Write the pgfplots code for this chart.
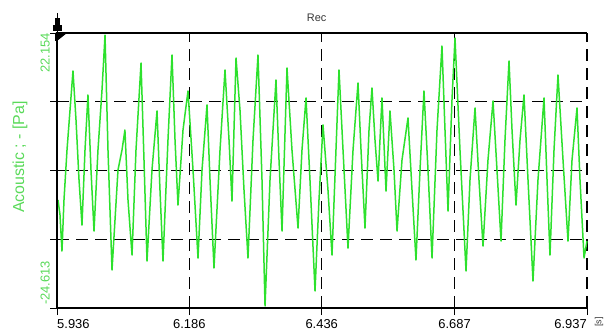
\documentclass[border=0pt]{standalone}
\usepackage{pgfplots}
\usepackage{pgfplotstable}
\pgfplotsset{compat=1.18}
\usepackage{fontspec}
\setmainfont{Liberation Sans}
\definecolor{sig}{RGB}{45,225,45}
\definecolor{lab}{RGB}{90,218,90}
\definecolor{ttl}{RGB}{55,55,55}
\tikzset{tl/.style={font=\fontsize{13}{15}\selectfont, inner sep=0pt}}

\pgfplotstableread{
x y
5.9379 -6.25
5.9417 -8.80
5.9454 -14.92
5.9492 -6.25
5.9549 2.26
5.9606 9.06
5.9662 15.69
5.9719 7.36
5.9776 -2.85
5.9832 -10.50
5.9889 2.26
5.9945 11.61
6.0002 -1.14
6.0059 -11.52
6.0134 2.26
6.0210 12.46
6.0267 21.80
6.0323 2.26
6.0399 -18.15
6.0512 -1.14
6.0588 2.26
6.0643 5.66
6.0701 -6.25
6.0777 -15.60
6.0852 2.26
6.0947 17.05
6.1003 0.56
6.1060 -16.62
6.1154 -1.14
6.1249 8.89
6.1305 -4.55
6.1362 -16.62
6.1456 3.96
6.1532 18.41
6.1589 3.96
6.1645 -7.10
6.1740 5.66
6.1834 12.29
6.1929 -1.14
6.2023 -16.11
6.2099 -1.14
6.2193 9.91
6.2250 -2.85
6.2325 -17.81
6.2439 2.26
6.2533 15.86
6.2609 3.96
6.2665 -6.42
6.2741 17.90
6.2816 9.06
6.2892 -4.55
6.2967 -16.11
6.3062 3.96
6.3156 18.41
6.3232 -2.85
6.3289 -24.27
6.3383 -2.85
6.3496 14.16
6.3553 0.56
6.3610 -11.52
6.3704 16.20
6.3798 2.26
6.3912 -11.01
6.3987 2.26
6.4063 11.10
6.4138 -2.85
6.4233 -21.72
6.4308 -6.25
6.4384 6.51
6.4478 -4.55
6.4554 -15.60
6.4629 2.26
6.4686 15.86
6.4762 2.26
6.4856 -14.41
6.4951 2.26
6.5045 13.65
6.5102 2.26
6.5177 -11.01
6.5253 5.66
6.5309 12.80
6.5366 3.96
6.5423 -3.02
6.5498 11.10
6.5574 -4.72
6.5649 8.89
6.5725 -1.14
6.5782 -11.52
6.5876 0.56
6.5989 7.70
6.6065 -4.55
6.6140 -16.45
6.6216 -1.14
6.6291 12.29
6.6367 -1.14
6.6443 -16.11
6.6537 5.66
6.6631 19.94
6.6688 5.66
6.6745 -8.12
6.6820 10.76
6.6877 21.30
6.6971 2.26
6.7085 -18.32
6.7160 -2.85
6.7255 9.40
6.7330 -2.85
6.7406 -14.07
6.7500 0.56
6.7595 10.59
6.7670 -1.14
6.7746 -13.22
6.7821 3.96
6.7897 17.39
6.7954 5.66
6.8029 -7.10
6.8105 3.96
6.8180 11.61
6.8256 -2.85
6.8350 -20.02
6.8444 -2.85
6.8558 11.10
6.8615 -2.85
6.8671 -15.60
6.8747 2.26
6.8822 15.01
6.8917 0.56
6.9011 -13.22
6.9087 0.56
6.9181 9.40
6.9238 -2.85
6.9314 -16.11
6.9370 -13.22
}\datatable

\begin{document}
\begin{tikzpicture}
\useasboundingbox (0,0) rectangle (616bp,333bp);
\begin{axis}[
  at={(57bp,25bp)}, anchor=south west,
  scale only axis, width=530bp, height=275bp,
  xmin=5.936, xmax=6.937, ymin=-24.613, ymax=22.154,
  xtick={5.936,6.186,6.436,6.687,6.937},
  ytick={-24.613,-12.9213,-1.2295,10.4623,22.154},
  xticklabel=\empty, yticklabel=\empty,
  minor x tick num=9, minor y tick num=7,
  tick align=outside, tick pos=left,
  major tick length=7bp, minor tick length=4bp,
  every tick/.style={black, line width=0.9bp},
  grid=major,
  major grid style={black, line width=1.2bp, dash pattern=on 12bp off 7bp},
  axis line style={draw=none},
  clip=false,
]
\addplot[sig, line width=1.5bp, line join=round] table[x=x,y=y] {\datatable};

\draw[black, line width=1.4bp] (rel axis cs:1,1) -- (rel axis cs:0,1) -- (rel axis cs:0,0) -- (rel axis cs:1,0);

\node[tl, anchor=north west] at ([yshift=-11bp]rel axis cs:0,0) {5.936};
\node[tl, anchor=north] at ([yshift=-11bp]axis cs:6.186,-24.613) {6.186};
\node[tl, anchor=north] at ([yshift=-11bp]axis cs:6.436,-24.613) {6.436};
\node[tl, anchor=north] at ([yshift=-11bp]axis cs:6.687,-24.613) {6.687};
\node[tl, anchor=north east] at ([yshift=-11bp]rel axis cs:1,0) {6.937};
\node[tl, rotate=90, anchor=south east, text=lab] at ([xshift=-7bp]rel axis cs:0,1) {22.154};
\node[tl, rotate=90, anchor=south west, text=lab] at ([xshift=-7bp, yshift=3bp]rel axis cs:0,0) {-24.613};
\node[rotate=90, anchor=center, inner sep=0pt, text=lab, font=\fontsize{16}{18}\selectfont] at ([xshift=-37bp]rel axis cs:0,0.549) {Acoustic ; - [Pa]};
\node[anchor=center, inner sep=0pt, text=ttl, font=\fontsize{11}{13}\selectfont] at ([yshift=15.5bp]rel axis cs:0.49,1) {Rec};
\node[rotate=90, anchor=center, inner sep=0pt, text=ttl, font=\fontsize{9}{11}\selectfont] at ([xshift=12bp, yshift=-14bp]rel axis cs:1,0) {[s]};
\end{axis}
\draw[line width=1bp] (57bp,300bp) -- (57bp,320bp);
\fill (55bp,315bp) rectangle (59.5bp,308bp);
\fill (53bp,308bp) rectangle (61.5bp,302bp);
\fill (55bp,300bp) -- (67bp,300bp) -- (57bp,292bp) -- (55bp,292bp) -- cycle;
\end{tikzpicture}
\end{document}
